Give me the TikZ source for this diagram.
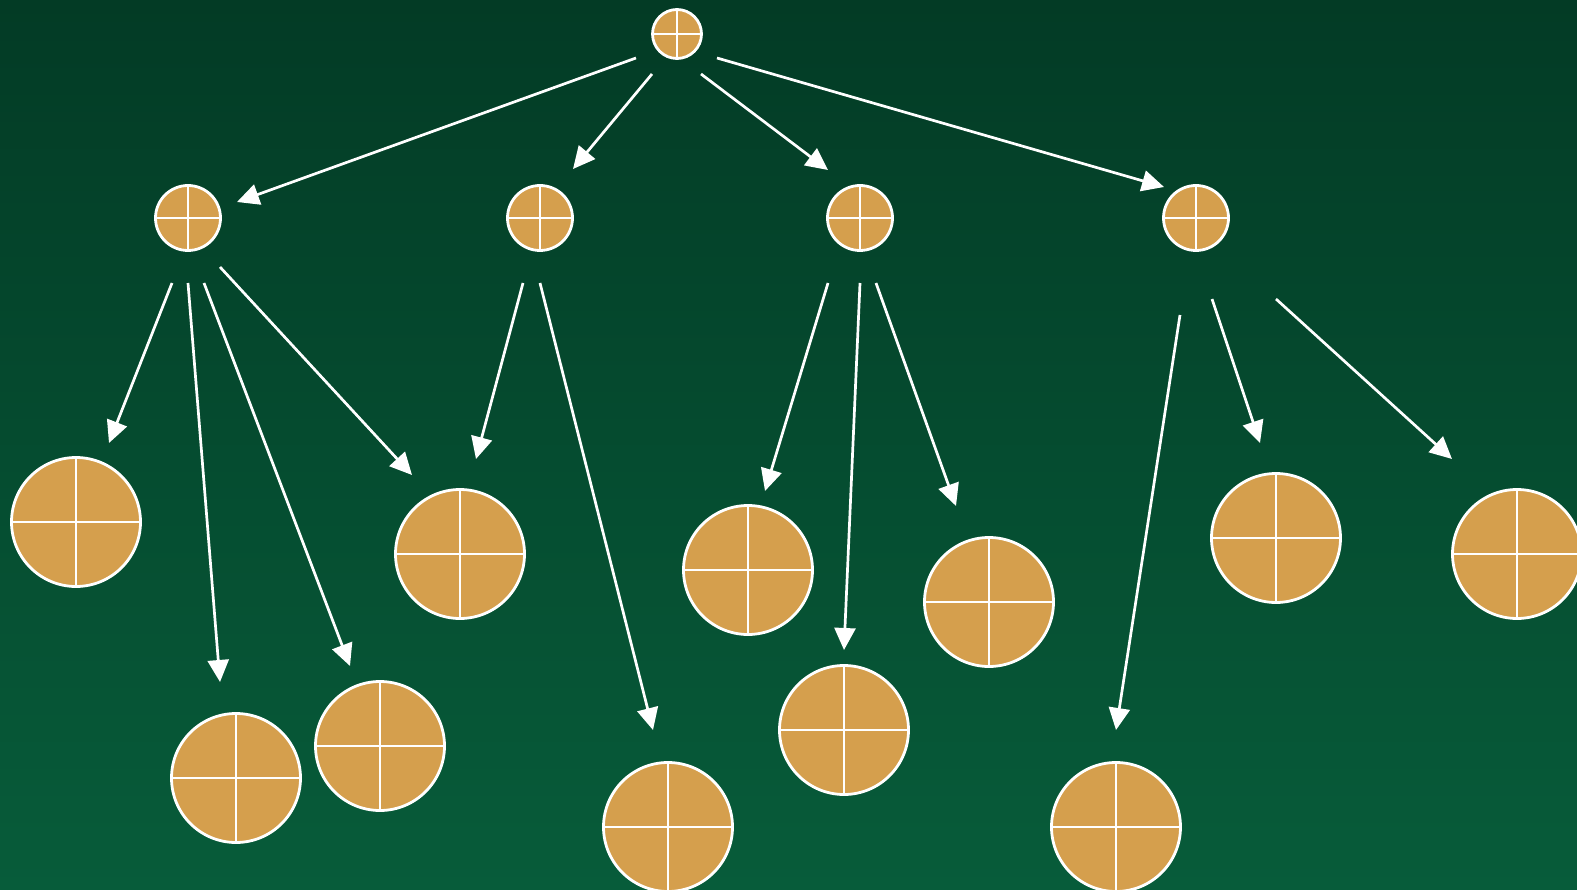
\documentclass[tikz,border=0pt]{standalone}
\usetikzlibrary{arrows.meta,calc}
\definecolor{bgtop}{RGB}{3,59,37}
\definecolor{bgbot}{RGB}{7,92,58}
\definecolor{gold}{RGB}{213,159,77}
\begin{document}
\begin{tikzpicture}[x=1pt,y=-1pt,
    disk/.style={circle,draw=white,fill=gold,line width=2.8pt,inner sep=0pt,
      path picture={\draw[white,line width=2.8pt]
        (path picture bounding box.north) -- (path picture bounding box.south)
        (path picture bounding box.west) -- (path picture bounding box.east);}},
    top/.style={disk,minimum size=49pt},
    mid/.style={disk,minimum size=65pt},
    leaf/.style={disk,minimum size=129pt},
    edge/.style={white,line width=2.7pt,-{Triangle[length=22pt,width=21pt]}}]
        \clip (0,0) rectangle (1577,890);
        \shade[top color=bgtop,bottom color=bgbot] (0,0) rectangle (1577,890);

        \node[top] at (677, 34) (root) {};

        \node[mid] at (188, 218) (m1) {};
        \node[mid] at (540, 218) (m2) {};
        \node[mid] at (860, 218) (m3) {};
        \node[mid] at (1196, 218) (m4) {};

        \node[leaf] at (76, 522) (t1) {};
        \node[leaf] at (236, 778) (t2) {};
        \node[leaf] at (380, 746) (t3) {};
        \node[leaf] at (460, 554) (t4) {};
        \node[leaf] at (668, 827) (t5) {};
        \node[leaf] at (748, 570) (t6) {};
        \node[leaf] at (844, 730) (t7) {};
        \node[leaf] at (989, 602) (t8) {};
        \node[leaf] at (1116, 827) (t9) {};
        \node[leaf] at (1276, 538) (t10) {};
        \node[leaf] at (1517, 554) (t11) {};

        \draw[edge] ($(root)+(-41,24)$) -- ($(m1)+(49,-16)$);
        \draw[edge] ($(root)+(-25,40)$) -- ($(m2)+(33,-49)$);
        \draw[edge] ($(root)+(24,40)$) -- ($(m3)+(-32,-48)$);
        \draw[edge] ($(root)+(40,24)$) -- ($(m4)+(-32,-31)$);

        \draw[edge] ($(m1)+(-16,65)$) -- ($(t1)+(33,-79)$);
        \draw[edge] ($(m1)+(0,65)$) -- ($(t2)+(-16,-96)$);
        \draw[edge] ($(m1)+(16,65)$) -- ($(t3)+(-30,-80)$);
        \draw[edge] ($(m1)+(32,49)$) -- ($(t4)+(-48,-79)$);

        \draw[edge] ($(m2)+(-17,65)$) -- ($(t4)+(16,-95)$);
        \draw[edge] ($(m2)+(0,65)$) -- ($(t5)+(-15,-97)$);

        \draw[edge] ($(m3)+(-32,65)$) -- ($(t6)+(17,-79)$);
        \draw[edge] ($(m3)+(0,65)$) -- ($(t7)+(0,-80)$);
        \draw[edge] ($(m3)+(16,65)$) -- ($(t8)+(-33,-96)$);

        \draw[edge] ($(m4)+(-16,97)$) -- ($(t9)+(0,-97)$);
        \draw[edge] ($(m4)+(16,81)$) -- ($(t10)+(-16,-95)$);
        \draw[edge] ($(m4)+(80,81)$) -- ($(t11)+(-65,-95)$);
    \end{tikzpicture}
\end{document}
